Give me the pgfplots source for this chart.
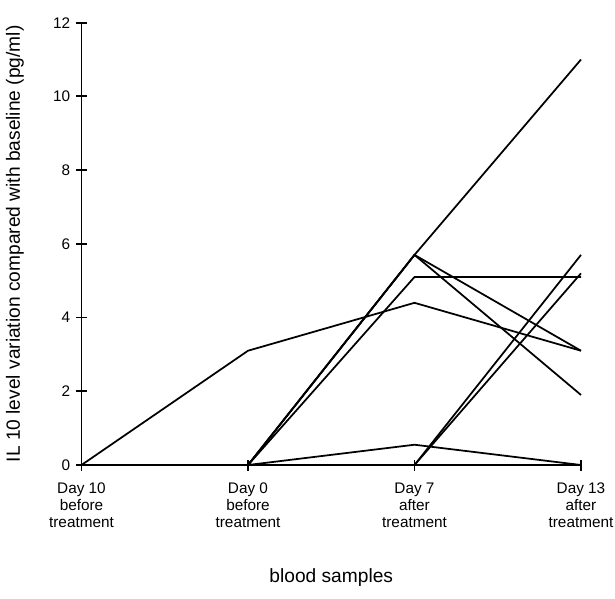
\documentclass[border=0pt]{standalone}
\usepackage{pgfplots}
\pgfplotsset{compat=1.18}
\usepackage{fontspec}
\setmainfont{Liberation Sans}
\begin{document}
\begin{tikzpicture}
\begin{axis}[
  scale only axis,
  width=299.7pt, height=265.4pt,
  xmin=0, xmax=3, ymin=0, ymax=12,
  axis lines=left,
  axis line style={-, line width=1.1pt},
  xtick={0,1,2,3},
  xticklabels={{Day 10\\before\\treatment},{Day 0\\before\\treatment},{Day 7\\after\\treatment},{Day 13\\after\\treatment}},
  xticklabel style={align=center, font=\fontsize{9.2}{10.2}\selectfont, yshift=-4pt},
  ytick={0,2,...,12},
  yticklabel style={font=\fontsize{9.2}{10.2}\selectfont},
  /pgf/number format/assume math mode=true,
  tick align=center,
  major tick length=6.6pt,
  tick style={line width=1.1pt, black},
  xlabel={blood samples},
  ylabel={IL 10 level variation compared with baseline (pg/ml)},
  label style={font=\fontsize{11.5}{13}\selectfont},
  xlabel style={at={(axis description cs:0.5,0)}, anchor=center, yshift=-67.8pt},
  ylabel style={at={(axis description cs:0,0.5)}, anchor=center, yshift=39.9pt},
  clip=false,
  every axis plot post/.append style={black, line width=1.05pt, solid, mark=none},
]
\addplot coordinates {(0,0) (1,3.1) (2,4.4) (3,3.1)};
\addplot coordinates {(1,0) (2,5.7) (3,11.0)};
\addplot coordinates {(1,0) (2,5.7) (3,3.1)};
\addplot coordinates {(1,0) (2,5.7) (3,1.9)};
\addplot coordinates {(1,0) (2,5.1) (3,5.1)};
\addplot coordinates {(1,0) (2,0.55) (3,0)};
\addplot coordinates {(0,0) (1,0) (2,0) (3,5.7)};
\addplot coordinates {(0,0) (1,0) (2,0) (3,5.2)};
\end{axis}
\pgfresetboundingbox
\path[use as bounding box] (-48.9pt,-79.8pt) rectangle (320.1pt,279pt);
\end{tikzpicture}
\end{document}
